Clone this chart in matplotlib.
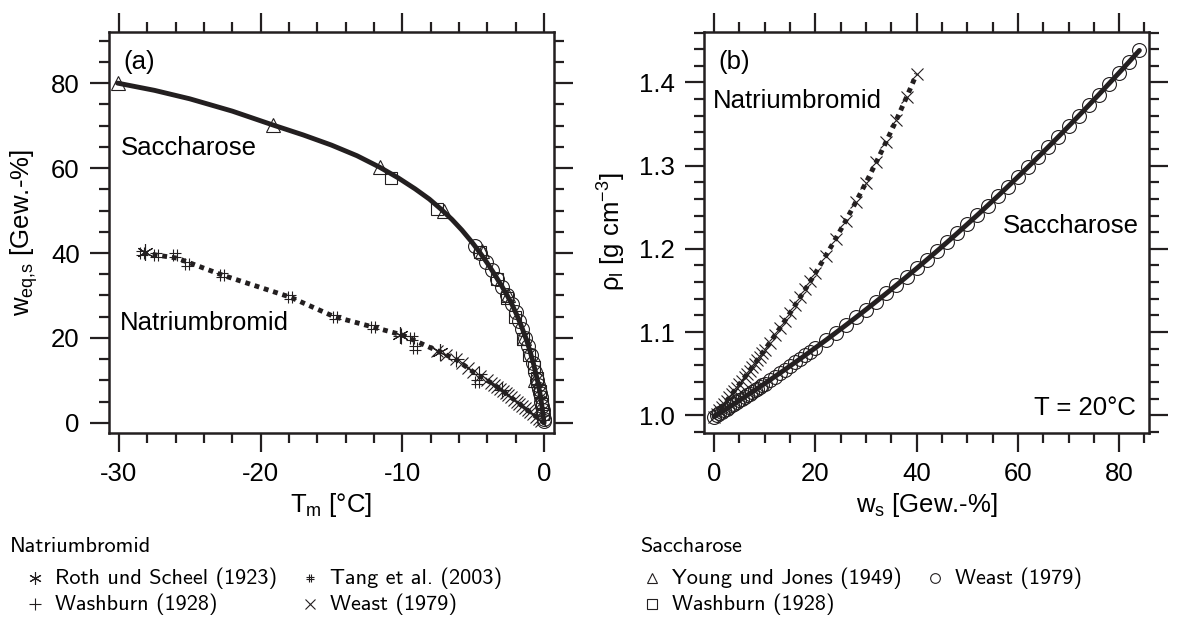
import matplotlib
matplotlib.use("Agg")
import matplotlib.pyplot as plt
from matplotlib.ticker import MultipleLocator, FormatStrFormatter
from matplotlib.path import Path

plt.rcParams['font.family'] = ['Liberation Sans', 'DejaVu Sans']
plt.rcParams['mathtext.fontset'] = 'custom'
plt.rcParams['mathtext.rm'] = 'Liberation Sans'
plt.rcParams['mathtext.it'] = 'Liberation Sans:italic'
plt.rcParams['axes.unicode_minus'] = False

INK = '#231f20'

# ---- panel (a): Gefrierkurven ----
# Saccharose fit line
suc_fit_T = [-30.1, -27.5, -25, -22, -19.1, -17, -15, -13.2, -11.6, -10.3, -9.1, -8.1, -7.3, -6.5,
             -5.8, -5.1, -4.55, -4.0, -3.5, -3.0, -2.6, -2.25, -1.95, -1.65, -1.4, -1.15, -0.95,
             -0.75, -0.55, -0.4, -0.25, -0.12, 0]
suc_fit_w = [80, 78.3, 76.3, 73.4, 70.1, 67.8, 65.4, 62.9, 60.2, 57.7, 55.1, 52.7, 50.4, 47.9,
             45.4, 42.6, 40.2, 37.6, 35.0, 32.3, 30.0, 27.8, 25.6, 23.2, 21.0, 18.6, 16.4,
             14.0, 11.2, 9.0, 6.2, 3.2, 0]

# Saccharose data
young_T = [-30.1, -19.1, -11.6, -7.05, -4.4, -2.55, -1.45, -0.62]
young_w = [80, 70.1, 60.2, 49.9, 40.5, 30.0, 20.0, 10.0]
washS_T = [-10.8, -7.55, -4.5, -3.3, -2.6, -2.05, -1.5, -1.05, -0.72, -0.5, -0.32, -0.18, -0.07]
washS_w = [57.6, 50.4, 40.3, 34.0, 29.5, 25.0, 19.8, 16.0, 13.2, 10.5, 7.5, 4.5, 2.0]
weastS_T = [-4.87, -4.51, -4.08, -3.7, -3.31, -2.95, -2.6, -2.28, -2.0, -1.75, -1.53, -1.32, -1.1,
            -0.92, -0.75, -0.61, -0.48, -0.4, -0.35, -0.29, -0.24, -0.2, -0.16, -0.11, -0.075,
            -0.04, -0.02]
weastS_w = [41.6, 40, 38, 36, 34, 32, 30, 28, 26, 24, 22, 20, 18, 16, 14, 12, 10, 9, 8, 7, 6, 5,
            4, 3, 2, 1, 0.5]

# Natriumbromid fit line
nabr_fit_T = [-28.3, -25.9, -22.7, -17.9, -14.8, -12.1, -10.0, -7.35, -6.15, -4.75, -3.6, -2.4,
              -1.2, 0]
nabr_fit_w = [40.0, 38.8, 34.8, 29.6, 25.0, 22.6, 20.7, 16.7, 14.8, 11.4, 9.2, 6.2, 3.1, 0]

# Natriumbromid data
roth_T = [-28.15, -10.15, -7.35]
roth_w = [40.3, 20.7, 16.8]
tang_T = [-28.4, -27.35, -26.05, -25.2, -22.75, -17.93, -14.76, -12.05, -9.35, -9.1, -4.75]
tang_w = [39.9, 39.5, 39.5, 37.4, 34.8, 29.7, 25.0, 22.5, 19.9, 17.6, 9.7]
washN_T = [-10.1, -6.2, -4.6, -3.0]
washN_w = [20.5, 15.0, 11.5, 7.8]
weastN_w = [0.5, 1, 1.5, 2, 2.5, 3, 3.5, 4, 4.5, 5, 5.5, 6, 6.5, 7, 7.5, 8, 8.5, 9, 9.5, 10,
            11, 12, 13, 14, 15, 16, 17]
weastN_T = [-0.19, -0.39, -0.58, -0.77, -0.97, -1.16, -1.36, -1.55, -1.74, -1.94, -2.13, -2.32,
            -2.52, -2.72, -2.92, -3.12, -3.32, -3.52, -3.77, -4.0, -4.5, -5.0, -5.4, -5.82,
            -6.25, -6.9, -7.55]

# ---- panel (b): Dichte bei 20 °C ----
suc_rho_w = [0, 0.5, 1, 1.5, 2, 2.5, 3, 3.5, 4, 4.5, 5, 5.5, 6, 6.5, 7, 7.5, 8, 8.5, 9, 9.5, 10,
             11, 12, 13, 14, 15, 16, 17, 18, 19, 20, 22, 24, 26, 28, 30, 32, 34, 36, 38, 40,
             42, 44, 46, 48, 50, 52, 54, 56, 58, 60, 62, 64, 66, 68, 70, 72, 74, 76, 78, 80,
             82, 84]
suc_rho = [0.9982, 1.0002, 1.0021, 1.0040, 1.0060, 1.0079, 1.0099, 1.0119, 1.0139, 1.0159,
           1.0179, 1.0199, 1.0219, 1.0239, 1.0259, 1.0279, 1.0299, 1.0320, 1.0340, 1.0361,
           1.0381, 1.0423, 1.0465, 1.0507, 1.0549, 1.0592, 1.0635, 1.0678, 1.0722, 1.0766,
           1.0810, 1.0899, 1.0990, 1.1082, 1.1175, 1.1270, 1.1366, 1.1464, 1.1563, 1.1663,
           1.1765, 1.1868, 1.1972, 1.2078, 1.2186, 1.2296, 1.2406, 1.2519, 1.2632, 1.2748,
           1.2865, 1.2983, 1.3103, 1.3224, 1.3347, 1.3472, 1.3598, 1.3726, 1.3855, 1.3986,
           1.4117, 1.4250, 1.4385]
nabr_rho_w = [0, 0.5, 1, 1.5, 2, 2.5, 3, 3.5, 4, 4.5, 5, 5.5, 6, 6.5, 7, 7.5, 8, 8.5, 9, 9.5, 10,
              11, 12, 13, 14, 15, 16, 17, 18, 19, 20, 22, 24, 26, 28, 30, 32, 34, 36, 38, 40]
nabr_rho = [0.9982, 1.0020, 1.0058, 1.0097, 1.0136, 1.0175, 1.0214, 1.0253, 1.0293, 1.0333,
            1.0373, 1.0413, 1.0454, 1.0495, 1.0536, 1.0577, 1.0619, 1.0661, 1.0703, 1.0745,
            1.0787, 1.0873, 1.0960, 1.1049, 1.1138, 1.1229, 1.1322, 1.1416, 1.1512, 1.1609,
            1.1708, 1.1911, 1.2121, 1.2338, 1.2563, 1.2796, 1.3038, 1.3289, 1.3550, 1.3821,
            1.4103]

hash_marker = Path([(-0.35, -1), (-0.35, 1), (0.35, -1), (0.35, 1),
                    (-1, -0.35), (1, -0.35), (-1, 0.35), (1, 0.35)],
                   [Path.MOVETO, Path.LINETO] * 4)
ast_marker = (6, 2, 0)

FS = 18.5
W, H = 1178, 623
fig = plt.figure(figsize=(W / 100, H / 100), dpi=100)


def frame(ax):
    for s in ax.spines.values():
        s.set_linewidth(1.8)
        s.set_color(INK)
    ax.tick_params(which='both', direction='out', top=True, right=True, color=INK,
                   labelsize=FS, pad=7)
    ax.tick_params(which='major', length=14, width=1.6)
    ax.tick_params(which='minor', length=7, width=1.6)


mk = dict(ls='none', mfc='none', mec=INK, mew=0.8)

# panel (a)
axa = fig.add_axes([109 / W, 1 - 432.7 / H, (554 - 109) / W, (432.7 - 31.7) / H])
axa.plot(roth_T, roth_w, marker=ast_marker, ms=12, **mk)
axa.plot(tang_T, tang_w, marker=hash_marker, ms=9, **mk)
axa.plot(washN_T, washN_w, marker='+', ms=11, **mk)
axa.plot(weastN_T, weastN_w, marker='x', ms=9, **mk)
axa.plot(nabr_fit_T, nabr_fit_w, color=INK, lw=3.5, ls=(0, (1, 1)))
axa.plot(young_T, young_w, marker='^', ms=10, **mk)
axa.plot(washS_T, washS_w, marker='s', ms=9, **mk)
axa.plot(weastS_T, weastS_w, marker='o', ms=10, **mk)
axa.plot(suc_fit_T, suc_fit_w, color=INK, lw=3.5, solid_capstyle='round')
axa.set_xlim(-30.7, 0.7)
axa.set_ylim(-2.3, 92.1)
axa.xaxis.set_major_locator(MultipleLocator(10))
axa.xaxis.set_minor_locator(MultipleLocator(2))
axa.yaxis.set_major_locator(MultipleLocator(20))
axa.yaxis.set_minor_locator(MultipleLocator(5))
frame(axa)
axa.set_xlabel(r'T$_\mathrm{m}$ [°C]', fontsize=FS, labelpad=4)
axa.set_ylabel(r'w$_\mathrm{eq{,}s}$ [Gew.-%]', fontsize=FS, labelpad=8)
axa.text(-29.7, 85, '(a)', fontsize=FS, va='center', ha='left')
axa.text(-29.9, 63, 'Saccharose', fontsize=FS, va='baseline', ha='left')
axa.text(-29.9, 21.9, 'Natriumbromid', fontsize=FS, va='baseline', ha='left')

# panel (b)
axb = fig.add_axes([704 / W, 1 - 432.7 / H, (1149 - 704) / W, (432.7 - 31.7) / H])
axb.plot(nabr_rho_w, nabr_rho, marker='x', ms=9, **mk)
axb.plot(nabr_rho_w, nabr_rho, color=INK, lw=3.5, ls=(0, (1, 1)))
axb.plot(suc_rho_w, suc_rho, marker='o', ms=10, **mk)
axb.plot(suc_rho_w, suc_rho, color=INK, lw=3.5, solid_capstyle='round')
axb.set_xlim(-2, 85.9)
axb.set_ylim(0.979, 1.461)
axb.xaxis.set_major_locator(MultipleLocator(20))
axb.xaxis.set_minor_locator(MultipleLocator(5))
axb.yaxis.set_major_locator(MultipleLocator(0.1))
axb.yaxis.set_minor_locator(MultipleLocator(0.02))
axb.yaxis.set_major_formatter(FormatStrFormatter('%.1f'))
frame(axb)
axb.set_xlabel(r'w$_\mathrm{s}$ [Gew.-%]', fontsize=FS, labelpad=4)
axb.set_ylabel(r'ρ$_\mathrm{l}$ [g cm$^{-3}$]', fontsize=FS, labelpad=8)
axb.text(0.8, 1.424, '(b)', fontsize=FS, va='center', ha='left')
axb.text(-0.26, 1.369, 'Natriumbromid', fontsize=FS, va='baseline', ha='left')
axb.text(83.8, 1.2186, 'Saccharose', fontsize=FS, va='baseline', ha='right')
axb.text(83.4, 1.0, 'T = 20°C', fontsize=FS, va='baseline', ha='right')

# legend below the panels (pixel coordinates)
lax = fig.add_axes([0, 0, 1, 1])
lax.set_xlim(0, W)
lax.set_ylim(H, 0)
lax.axis('off')
LF = dict(fontsize=16, family=['cmss10', 'DejaVu Sans'], va='center', ha='left')
lmk = dict(ls='none', mfc='none', mec=INK, mew=0.8)
lax.text(10, 546, 'Natriumbromid', **LF)
lax.text(640, 546, 'Saccharose', **LF)
legend_rows = [
    (35, 578, ast_marker, 9, 'Roth und Scheel (1923)'),
    (310, 578, hash_marker, 6, 'Tang et al. (2003)'),
    (35, 604, '+', 9, 'Washburn (1928)'),
    (310, 604, 'x', 7, 'Weast (1979)'),
    (652, 578, '^', 7, 'Young und Jones (1949)'),
    (935, 578, 'o', 7, 'Weast (1979)'),
    (652, 604, 's', 7, 'Washburn (1928)'),
]
for x, y, m, s, label in legend_rows:
    lax.plot([x], [y], marker=m, ms=s, **lmk)
    lax.text(x + 20, y, label, **LF)

fig.savefig('out.png', dpi=100)
